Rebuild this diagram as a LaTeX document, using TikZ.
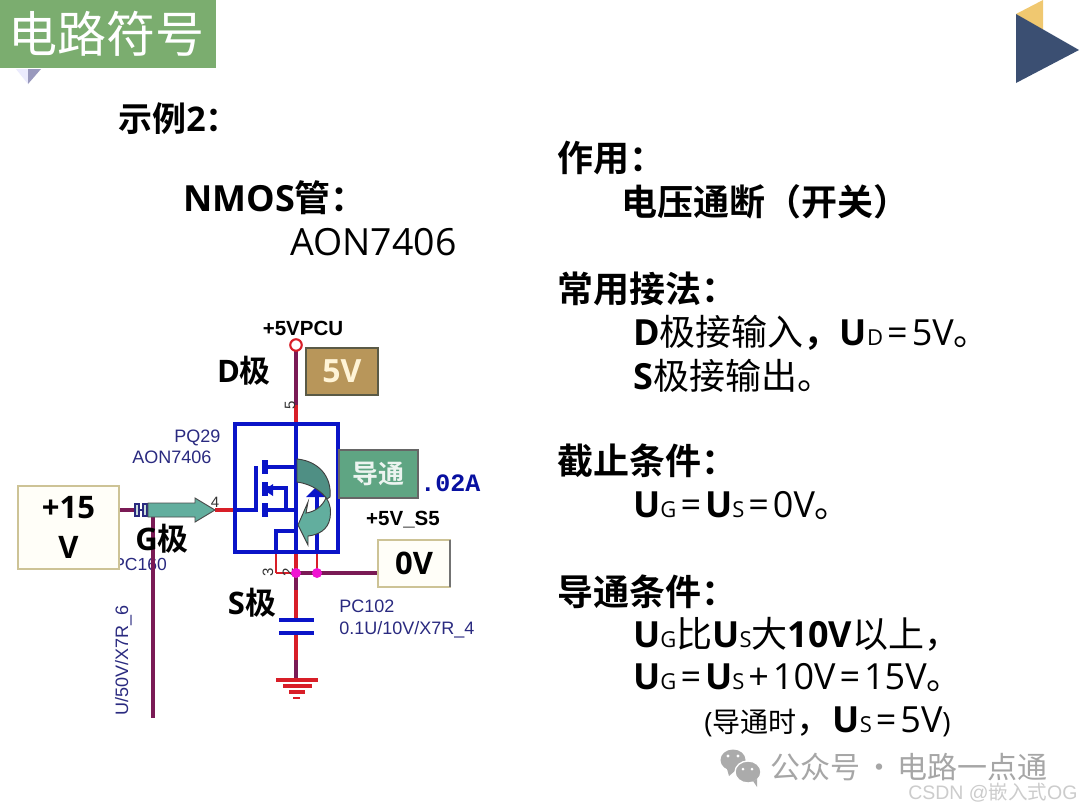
\documentclass[tikz,border=0pt]{standalone}
\usepackage{fontspec}
\setmainfont{Noto Sans CJK SC}[BoldFont={Noto Sans CJK SC Bold}]
\newfontfamily\lat{Open Sans}
\newfontfamily\arial{Liberation Sans}
\newfontfamily\cour{Liberation Mono}
\newcommand\pxx[1]{\fontsize{\dimexpr #1pt*3/4\relax}{\dimexpr #1pt*9/10\relax}\selectfont}
\newcommand\UU[1]{{\lat\bfseries U}{\lat\pxx{22}#1}}
\newcommand\LB[1]{{\lat\bfseries #1}}
\newcommand\LR[1]{{\lat #1}}
\newcommand\EQ{{\lat\kern3pt=\kern3pt}}
\definecolor{maroon}{HTML}{7A1A55}
\definecolor{wred}{HTML}{D81E28}
\definecolor{wblue}{HTML}{0A14C8}
\definecolor{navy}{HTML}{2A2A80}
\definecolor{teala}{HTML}{4F8F84}
\definecolor{tealb}{HTML}{62AE9E}
\definecolor{tagreen}{HTML}{5FA583}
\tikzset{
  tx/.style={anchor=base west,inner sep=0pt,font=\pxx{36}},
  pole/.style={anchor=center,inner sep=0pt,font=\pxx{31}\bfseries},
  lab/.style={anchor=base west,inner sep=0pt,text=navy,font=\arial\pxx{18}},
  wm/.style={draw=maroon,line width=3pt},
  wr/.style={draw=wred,line width=3pt},
  mos/.style={draw=wblue,line width=2.8pt},
  bar/.style={draw=wblue,line width=3.8pt},
  pin/.style={anchor=center,inner sep=0pt,text=black!80,font=\arial\pxx{15}},
}
\begin{document}
\begin{tikzpicture}[x=0.75pt,y=-0.75pt]
\useasboundingbox (0,0) rectangle (1080,810);
% title
\fill[fill=white] (0,0) rectangle (1080,810);
\fill[fill=black!12!blue!8!white] (16,69) -- (28,69) -- (28,84) -- cycle;
\fill[fill=blue!35!black!40!white] (28,69) -- (41,69) -- (28,84) -- cycle;
\node[draw=none,fill={rgb,255:red,123;green,173;blue,111},minimum width=216*0.75pt,minimum height=68*0.75pt,inner sep=0pt,outer sep=0pt,anchor=north west,text=white,font=\pxx{49}] (title) at (0,0) {\hspace{-2pt}电路符号};
\fill[fill={rgb,255:red,240;green,200;blue,112}] (1016,14) -- (1043,0) -- (1043,32) -- cycle;
\fill[fill={rgb,255:red,59;green,79;blue,114}] (1016,14) -- (1079,50) -- (1016,83) -- cycle;
% left texts
\node[tx,font=\pxx{34}] (t1) at (118,131) {\bfseries 示例\LB{2}：};
\node[tx] (t2) at (183,211) {\bfseries\LB{NMOS}管：};
\node[tx,font=\lat\pxx{37.5}] (t3) at (290,255) {AON7406};
% right texts
\node[tx] (r1) at (557,171) {\bfseries 作用：};
\node[tx] (r2) at (621,215) {\bfseries 电压通断（开关）};
\node[tx] (r3) at (557,302) {\bfseries 常用接法：};
\node[tx] (r4) at (633,345) {\LB{D}极接输入{\bfseries ，}\UU{D}\EQ\LR{5V}。};
\node[tx] (r5) at (633,389) {\LB{S}极接输出。};
\node[tx] (r6) at (557,474) {\bfseries 截止条件：};
\node[tx] (r7) at (633,517) {\UU{G}\EQ\UU{S}\EQ\LR{0V}。};
\node[tx] (r8) at (557,605) {\bfseries 导通条件：};
\node[tx] (r9) at (633,647) {\UU{G}比\UU{S}大\LB{10V}以上，};
\node[tx] (r10) at (633,689) {\UU{G}\EQ\UU{S}\LR{\kern3pt+\kern3pt10V}\EQ\LR{15V}。};
\node[tx,font=\pxx{28}] (r11) at (704,732) {\LR{(}导通时{\pxx{36}，\UU{S}\EQ\LR{5V}}\LR{)}};
% circuit coordinates
\coordinate (vcc) at (296,351);
\coordinate (dtop) at (296,424);
\coordinate (dred) at (296,405);
\coordinate (sbot) at (296,552);
\coordinate (sj) at (296,573);
\coordinate (sj2) at (317,573);
\coordinate (sj0) at (276,573);
\coordinate (sr) at (296,590);
\coordinate (ctop) at (296,620);
\coordinate (cbot) at (296,633);
\coordinate (cm) at (296,660);
\coordinate (gnd) at (296,680);
\coordinate (gin) at (119,510);
\coordinate (gc1) at (135,510);
\coordinate (gc2) at (148,510);
\coordinate (gt) at (153,510);
\coordinate (gb) at (153,718);
\coordinate (ga) at (215,510);
\coordinate (gm) at (235,510);
% small labels under boxes
\node[lab,anchor=base west,font=\arial\pxx{17.5}] (pc160) at (113,570) {PC160};
% wires
\draw[wm] (vcc) -- (dred);
\draw[wr] (dred) -- (dtop);
\draw[wm] (gin) -- (gc1);
\draw[wm] (gt) -- (gb);
\draw[wr] (ga) -- (gm);
\draw[wr] (sbot) -- (sj);
\draw[wm] (sj) -- (sr);
\draw[wr] (sr) -- (ctop);
\draw[wr] (cbot) -- (cm);
\draw[wm] (cm) -- (gnd);
\draw[wr,line width=2.2pt] (sj0) -- (sj);
\draw[wm] (sj) -- (378,573) coordinate (zr);
\draw[wr,line width=2.2pt] (276,552) -- (sj0);
\draw[wr,line width=2.2pt] (317,552) -- (sj2);
\node[circle,draw=wred,line width=1.6pt,fill=white,minimum size=11.5*0.75pt,inner sep=0pt] (vp) at (296,345) {};
% capacitor
\draw[draw=wblue,line width=2.4pt] (279,620) -- (314,620);
\draw[draw=wblue,line width=2.4pt] (279,633) -- (314,633);
% ground
\draw[wr] (276,680) -- (318,680);
\draw[wr] (283,686) -- (312,686);
\draw[wr,line width=2.6pt] (289,692) -- (305,692);
\draw[wr,line width=2.2pt] (293,698) -- (300,698);
% G capacitor
\draw[draw=navy,line width=1.2pt,fill=white!70!teala] (135,504) rectangle (139,516);
\draw[draw=navy,line width=1.2pt,fill=white!70!teala] (143,504) rectangle (147,516);
\draw[draw=navy,line width=1pt] (139,510) -- (143,510);
% teal arrow
\draw[draw=black!70,line width=.7pt,fill=tealb] (148,503) -- (195,503) -- (195,498) -- (215,510) -- (195,522) -- (195,517) -- (148,517) -- cycle;
% MOS
\node[draw=wblue,line width=2.8pt,minimum width=103*0.75pt,minimum height=128*0.75pt,inner sep=0pt,outer sep=0pt,anchor=north west] (mosb) at (235,424) {};
\draw[mos] (296,424) -- (296,552);
\draw[mos] (235,510) -- (256,510) -- (256,466);
\draw[mos] (265,467) -- (296,467);
\draw[mos] (265,488) -- (286,488) -- (286,510);
\draw[mos] (265,510) -- (296,510);
\draw[bar] (265,460) -- (265,474);
\draw[bar] (265,482) -- (265,496);
\draw[bar] (265,503) -- (265,517);
\fill[fill=wblue] (273,484) -- (264,490) -- (273,496) -- cycle;
\draw[mos] (296,531) -- (276,531) -- (276,552);
\draw[mos] (317,497) -- (317,552);
\fill[fill=wblue] (306,497) -- (327,497) -- (317,486) -- cycle;
% curved arrows
\draw[draw=black!75,line width=.7pt,fill=teala] (297,459) .. controls (318,461) and (332,476) .. (330,497) -- (327,499) .. controls (322,492) and (312,484) .. (297,482) -- cycle;
\draw[draw=black!75,line width=.7pt,fill=tealb] (326,498) .. controls (331,504) and (331,512) .. (330,518) .. controls (328,530) and (318,535) .. (308,536) -- (308,545) -- (298,525) -- (308,502) -- (306,513) .. controls (314,512) and (322,507) .. (326,498) -- cycle;
% boxes
\node[draw={rgb,255:red,90;green,90;blue,70},line width=1pt,fill={rgb,255:red,184;green,150;blue,90},minimum width=72*0.75pt,minimum height=47*0.75pt,inner sep=0pt,outer sep=0pt,anchor=north west,text={rgb,255:red,255;green,244;blue,214},font=\lat\bfseries\pxx{32}] (fv) at (306,348) {5V};
\node[draw=black!60,line width=1pt,fill=tagreen,minimum width=79*0.75pt,minimum height=48*0.75pt,inner sep=0pt,outer sep=0pt,anchor=north west,text=white!88!tagreen,font=\bfseries\pxx{26}] (dt) at (339,450) {导通};
\node[draw={rgb,255:red,205;green,195;blue,150},line width=1pt,fill={rgb,255:red,255;green,254;blue,248},minimum width=101*0.75pt,minimum height=83*0.75pt,inner sep=0pt,outer sep=0pt,anchor=north west,align=center,text=black,font=\lat\bfseries\pxx{31}] (p15) at (18,486) {+15\\[2pt]V};
\node[draw={rgb,255:red,205;green,195;blue,150},line width=1pt,fill={rgb,255:red,255;green,254;blue,248},minimum width=72*0.75pt,minimum height=47*0.75pt,inner sep=0pt,outer sep=0pt,anchor=north west,text=black,font=\lat\bfseries\pxx{31}] (zv) at (378,540) {0V};
\draw[draw=black!55,line width=1.3pt] (zv.north east) -- (zv.south east);
% circuit labels
\node[anchor=center,inner sep=0pt,text=black,font=\arial\bfseries\pxx{20.5}] (l5) at (303,328) {+5VPCU};
\node[anchor=center,inner sep=0pt,text=black,font=\arial\bfseries\pxx{20.5}] (l55) at (403,520) {+5V\_S5};
\node[anchor=base west,inner sep=0pt,text=wblue!80!black,font=\cour\bfseries\pxx{25}] (l02) at (420,491) {.02A};
\node[lab] (pq) at (174,442) {PQ29};
\node[lab] (aon) at (132,463) {AON7406};
\node[lab] (pc) at (339,612) {PC102};
\node[lab] (pcv) at (339,634) {0.1U/10V/X7R\_4};
\node[lab,anchor=base west,rotate=90] (rot) at (128,716) {U/50V/X7R\_6};
\node[pin,rotate=90] (p5) at (290,405) {5};
\node[pin] (p4) at (215,502) {4};
\node[pin,rotate=90] (p3) at (268,572) {3};
\node[pin,rotate=90] (p2) at (288,572) {2};
\node[pole] (d) at (244,371) {\LB{D}极};
\node[pole] (g) at (162,539) {\LB{G}极};
\node[pole] (s) at (252,603) {\LB{S}极};
\fill[fill={rgb,255:red,240;green,20;blue,210}] (sj) circle (5);
\fill[fill={rgb,255:red,240;green,20;blue,210}] (sj2) circle (5);
% watermark
\fill[fill=black!33] (733,760) ellipse (12.5 and 10.5);
\fill[fill=black!33] (727,769) -- (729,776) -- (736,770) -- cycle;
\draw[draw=white,line width=1pt,fill=black!33] (748,772) ellipse (13 and 11);
\fill[fill=black!33] (753,781) -- (757,787) -- (757,779) -- cycle;
\fill[fill=white] (728,756) circle (1.6);
\fill[fill=white] (738,756) circle (1.6);
\fill[fill=white] (743,769) circle (1.5);
\fill[fill=white] (752,769) circle (1.5);
\node[anchor=base west,inner sep=0pt,text=black!35,font=\pxx{30}] (wm1) at (770,778) {公众号\kern-2pt{} · \kern-3pt{}电路一点通};
\node[anchor=base west,inner sep=0pt,text=black!20,font=\pxx{19.5}] (wm2) at (908,799) {\arial CSDN @\rmfamily 嵌入式\arial OG};
\end{tikzpicture}
\end{document}
